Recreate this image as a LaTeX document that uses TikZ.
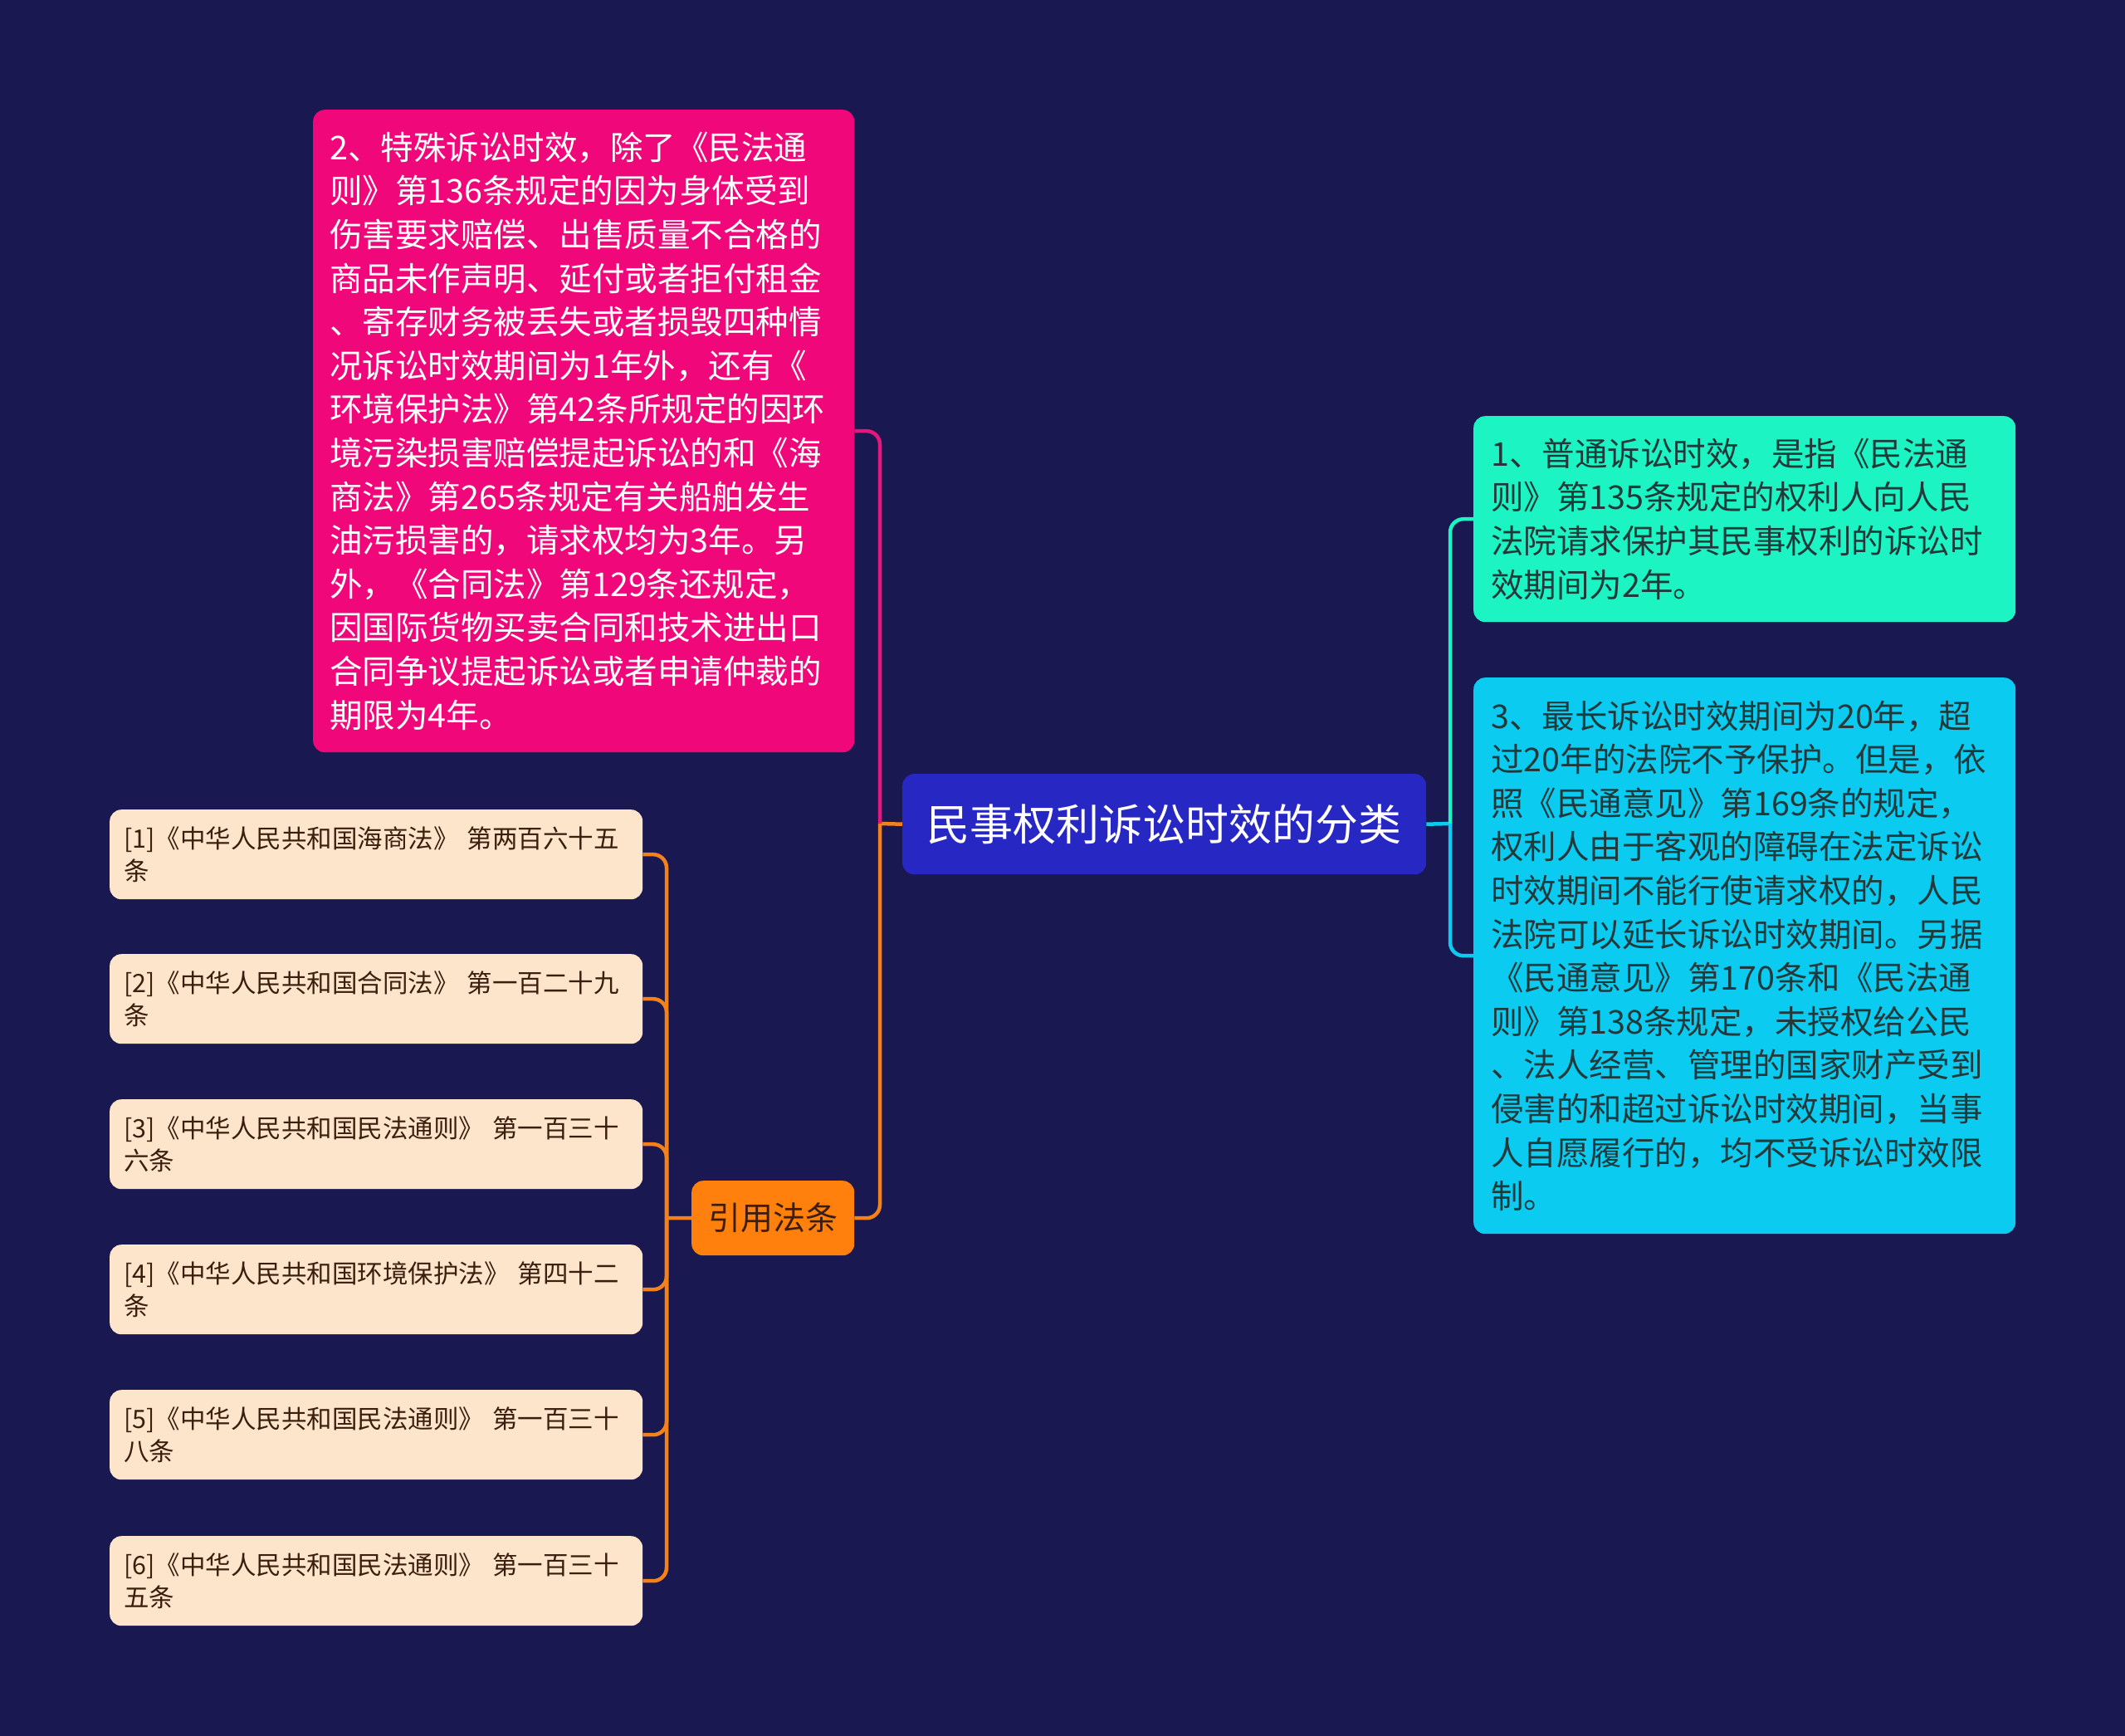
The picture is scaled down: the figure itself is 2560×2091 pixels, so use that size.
\documentclass[tikz,border=0pt]{standalone}
\usepackage{fontspec}
\setmainfont{Noto Sans CJK SC}
\definecolor{bgc}{HTML}{1A1850}
\definecolor{pinkc}{HTML}{F0087A}
\definecolor{pinkl}{HTML}{E3187C}
\definecolor{centc}{HTML}{2727C4}
\definecolor{tealc}{HTML}{1CF5C3}
\definecolor{cyanc}{HTML}{0BCBF0}
\definecolor{orangec}{HTML}{FF800C}
\definecolor{orangel}{HTML}{F4821A}
\definecolor{refc}{HTML}{FDE5CC}
\definecolor{darkt}{HTML}{21393A}
\definecolor{brownt}{HTML}{3B1E0E}
\begin{document}
\begin{tikzpicture}[x=1pt,y=-1pt,
  box/.style={rectangle,rounded corners=14pt,anchor=north west,inner ysep=0pt,align=left},
  bigtext/.style={font=\fontsize{39.5}{52.6}\selectfont},
  reftext/.style={font=\fontsize{30.5}{39}\selectfont},
  refbox/.style={box,fill=refc,text=brownt,reftext,inner xsep=17pt,text width=608pt,minimum height=108pt},
  conn/.style={line width=4.5pt},
  rconn/.style={line width=4.5pt,rounded corners=16pt}]
\fill[bgc] (0,0) rectangle (2560,2091);
% nodes
\node[box,fill=centc,text=white,font=\fontsize{52}{62}\selectfont,align=center,inner xsep=20pt,text width=591pt,minimum height=121pt] (c) at (1087,932) {民事权利诉讼时效的分类};
\node[box,fill=pinkc,text=white,bigtext,inner xsep=20pt,text width=612pt,minimum height=774pt] (p) at (377,132) {2、特殊诉讼时效，除了《民法通\\则》第136条规定的因为身体受到\\伤害要求赔偿、出售质量不合格的\\商品未作声明、延付或者拒付租金\\、寄存财务被丢失或者损毁四种情\\况诉讼时效期间为1年外，还有《\\环境保护法》第42条所规定的因环\\境污染损害赔偿提起诉讼的和《海\\商法》第265条规定有关船舶发生\\油污损害的，请求权均为3年。另\\外，《合同法》第129条还规定，\\因国际货物买卖合同和技术进出口\\合同争议提起诉讼或者申请仲裁的\\期限为4年。};
\node[box,fill=tealc,text=darkt,bigtext,inner xsep=21pt,text width=611pt,minimum height=248pt] (t) at (1775,501) {1、普通诉讼时效，是指《民法通\\则》第135条规定的权利人向人民\\法院请求保护其民事权利的诉讼时\\效期间为2年。};
\node[box,fill=cyanc,text=darkt,bigtext,inner xsep=21pt,text width=611pt,minimum height=670pt] (s) at (1775,816) {3、最长诉讼时效期间为20年，超\\过20年的法院不予保护。但是，依\\照《民通意见》第169条的规定，\\权利人由于客观的障碍在法定诉讼\\时效期间不能行使请求权的，人民\\法院可以延长诉讼时效期间。另据\\《民通意见》第170条和《民法通\\则》第138条规定，未授权给公民\\、法人经营、管理的国家财产受到\\侵害的和超过诉讼时效期间，当事\\人自愿履行的，均不受诉讼时效限\\制。};
\node[box,fill=orangec,text=brownt,font=\fontsize{39}{46}\selectfont,align=center,inner xsep=16pt,text width=164pt,minimum height=90pt] (o) at (833,1422) {引用法条};
\node[refbox] (r1) at (132,975) {[1]《中华人民共和国海商法》 第两百六十五\\条};
\node[refbox] (r2) at (132,1149) {[2]《中华人民共和国合同法》 第一百二十九\\条};
\node[refbox] (r3) at (132,1324) {[3]《中华人民共和国民法通则》 第一百三十\\六条};
\node[refbox] (r4) at (132,1499) {[4]《中华人民共和国环境保护法》 第四十二\\条};
\node[refbox] (r5) at (132,1674) {[5]《中华人民共和国民法通则》 第一百三十\\八条};
\node[refbox] (r6) at (132,1850) {[6]《中华人民共和国民法通则》 第一百三十\\五条};
% junctions
\coordinate (jl) at (1060,992);
\coordinate (jr) at (1747,992);
\coordinate (jo) at (803,1467);
% connectors
\draw[conn,orangel] (c.west) -- (jl);
\draw[rconn,pinkl] (jl) |- (p.east);
\draw[rconn,orangel] (jl) |- (o.east);
\draw[conn,cyanc] (c.east) -- (jr);
\draw[rconn,tealc] (jr) |- (t.west);
\draw[rconn,cyanc] (jr) |- (s.west);
\draw[conn,orangel] (o.west) -- (jo);
\foreach \r in {r1,r2,r3,r4,r5,r6}{
  \draw[rconn,orangel] (jo) |- (\r.east);
}
\end{tikzpicture}
\end{document}
